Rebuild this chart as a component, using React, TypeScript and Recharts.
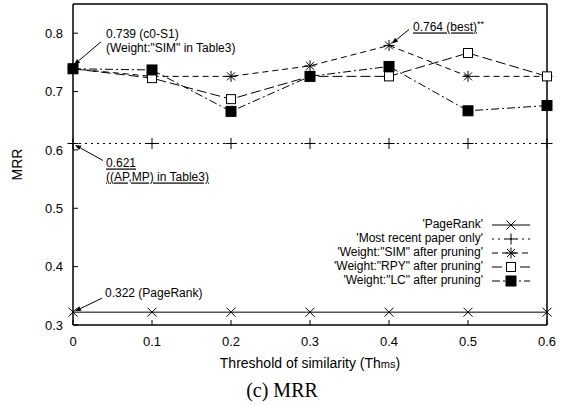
import { LineChart, Line, XAxis, YAxis, Legend, ReferenceDot } from 'recharts';

// Threshold of similarity on the x axis
const thresholds = [0, 0.1, 0.2, 0.3, 0.4, 0.5, 0.6];

// MRR values
const pageRank = [0.322, 0.322, 0.322, 0.322, 0.322, 0.322, 0.322];
const mostRecent = [0.611, 0.611, 0.611, 0.611, 0.611, 0.611, 0.611];
const simPruned = [0.739, 0.726, 0.726, 0.744, 0.779, 0.726, 0.726];
const rpyPruned = [0.739, 0.723, 0.687, 0.726, 0.726, 0.766, 0.726];
const lcPruned = [0.739, 0.737, 0.666, 0.726, 0.743, 0.667, 0.676];

const xTicks = [0, 0.1, 0.2, 0.3, 0.4, 0.5, 0.6];
const yTicks = [0.3, 0.4, 0.5, 0.6, 0.7, 0.8];

const FONT = '"Liberation Sans", Arial, sans-serif';

const chartData = thresholds.map((t, i) => ({
  t,
  pageRank: pageRank[i],
  mostRecent: mostRecent[i],
  sim: simPruned[i],
  rpy: rpyPruned[i],
  lc: lcPruned[i],
}));

const series = [
  { key: 'pageRank', name: "'PageRank'", dash: undefined, marker: 'cross' },
  { key: 'mostRecent', name: "'Most recent paper only'", dash: '2 4', marker: 'plus' },
  { key: 'sim', name: `'Weight:"SIM" after pruning'`, dash: '6 4', marker: 'star' },
  { key: 'rpy', name: `'Weight:"RPY" after pruning'`, dash: '10 4', marker: 'box' },
  { key: 'lc', name: `'Weight:"LC" after pruning'`, dash: '8 3 2 3', marker: 'boxFilled' },
];

function Marker({ kind, cx, cy }: { kind: string; cx: number; cy: number }) {
  const st = { stroke: '#000', strokeWidth: 1, fill: 'none' };
  if (kind === 'cross') {
    const s = 4.5;
    return <path d={`M${cx - s},${cy - s}L${cx + s},${cy + s}M${cx - s},${cy + s}L${cx + s},${cy - s}`} {...st} />;
  }
  if (kind === 'plus') {
    const s = 5.5;
    return <path d={`M${cx - s},${cy}L${cx + s},${cy}M${cx},${cy - s}L${cx},${cy + s}`} {...st} />;
  }
  if (kind === 'star') {
    const s = 5.5;
    const d = 4;
    return (
      <path
        d={`M${cx - s},${cy}L${cx + s},${cy}M${cx},${cy - s}L${cx},${cy + s}M${cx - d},${cy - d}L${cx + d},${cy + d}M${cx - d},${cy + d}L${cx + d},${cy - d}`}
        {...st}
      />
    );
  }
  if (kind === 'box') {
    return <rect x={cx - 4.5} y={cy - 4.5} width={9} height={9} fill="#fff" stroke="#000" strokeWidth={1} />;
  }
  return <rect x={cx - 5} y={cy - 5} width={10} height={10} fill="#000" stroke="#000" strokeWidth={1} />;
}

function makeDot(kind: string) {
  return (props: any) => (
    <g key={`${kind}-${props.index}`}>
      <Marker kind={kind} cx={props.cx} cy={props.cy} />
    </g>
  );
}

type NoteLine = { dx: number; dy: number; text: string; underline?: boolean; sup?: string };

function makeNote(tail: [number, number], head: [number, number], lines: NoteLine[]) {
  return (props: any) => {
    const { cx, cy } = props;
    const x1 = cx + tail[0];
    const y1 = cy + tail[1];
    const x2 = cx + head[0];
    const y2 = cy + head[1];
    const a = Math.atan2(y2 - y1, x2 - x1);
    const len = 6;
    const w = 2.5;
    const bx = x2 - len * Math.cos(a);
    const by = y2 - len * Math.sin(a);
    const p1 = `${bx + w * Math.sin(a)},${by - w * Math.cos(a)}`;
    const p2 = `${bx - w * Math.sin(a)},${by + w * Math.cos(a)}`;
    return (
      <g>
        <line x1={x1} y1={y1} x2={bx} y2={by} stroke="#000" strokeWidth={1} />
        <polygon points={`${x2},${y2} ${p1} ${p2}`} fill="#000" />
        {lines.map((l, i) => (
          <text key={i} x={cx + l.dx} y={cy + l.dy} fontSize={12} fontFamily={FONT} fill="#000">
            <tspan style={l.underline ? { textDecoration: 'underline' } : undefined}>{l.text}</tspan>
            {l.sup ? (
              <tspan fontSize={9} dy={-4}>
                {l.sup}
              </tspan>
            ) : null}
          </text>
        ))}
      </g>
    );
  };
}

function XLabel(props: any) {
  const { x, y, width } = props.viewBox;
  return (
    <text x={x + width / 2} y={y + 43} textAnchor="middle" fontSize={14} fontFamily={FONT} fill="#000">
      Threshold of similarity (Th
      <tspan fontSize={11}>ms</tspan>)
    </text>
  );
}

function YLabel(props: any) {
  const { y, height } = props.viewBox;
  const cy = y + height / 2;
  return (
    <text
      x={17}
      y={cy}
      transform={`rotate(-90 17 ${cy})`}
      textAnchor="middle"
      dominantBaseline="central"
      fontSize={14}
      fontFamily={FONT}
      fill="#000"
    >
      MRR
    </text>
  );
}

function LegendBox() {
  return (
    <div style={{ fontFamily: FONT, fontSize: 12, color: '#000' }}>
      {series.map((s) => (
        <div key={s.key} style={{ display: 'flex', justifyContent: 'flex-end', alignItems: 'center', height: 13.9 }}>
          <span style={{ whiteSpace: 'nowrap', lineHeight: '13px' }}>{s.name}</span>
          <svg width={40} height={14} style={{ marginLeft: 9, overflow: 'visible' }}>
            <line x1={0} x2={38} y1={7} y2={7} stroke="#000" strokeWidth={1} strokeDasharray={s.dash} />
            <Marker kind={s.marker} cx={19} cy={7} />
          </svg>
        </div>
      ))}
    </div>
  );
}

const axisLine = { stroke: '#000', strokeWidth: 1.5 };
const tickLine = { stroke: '#000', strokeWidth: 1 };
const tickStyle = { fill: '#000', fontSize: 13, fontFamily: FONT };

export default function App() {
  return (
    <div style={{ position: 'relative', width: 562, height: 405, background: '#fff' }}>
      <style>{'body{margin:0}'}</style>
      <LineChart width={562} height={405} data={chartData} margin={{ top: 3, right: 14, bottom: 0, left: 0 }}>
        <XAxis
          xAxisId="b"
          dataKey="t"
          type="number"
          domain={[0, 0.6]}
          ticks={xTicks}
          height={80}
          tickSize={-5}
          tickMargin={17}
          axisLine={axisLine}
          tickLine={tickLine}
          tick={tickStyle}
          label={<XLabel />}
        />
        <XAxis
          xAxisId="t"
          orientation="top"
          dataKey="t"
          type="number"
          domain={[0, 0.6]}
          ticks={xTicks}
          height={1}
          tickSize={-5}
          axisLine={axisLine}
          tickLine={tickLine}
          tick={false}
        />
        <YAxis
          yAxisId="l"
          type="number"
          domain={[0.3, 0.85]}
          ticks={yTicks}
          width={73}
          tickSize={-5}
          tickMargin={15}
          axisLine={axisLine}
          tickLine={tickLine}
          tick={tickStyle}
          label={<YLabel />}
        />
        <YAxis
          yAxisId="r"
          orientation="right"
          type="number"
          domain={[0.3, 0.85]}
          ticks={yTicks}
          width={1}
          tickSize={-5}
          axisLine={axisLine}
          tickLine={tickLine}
          tick={false}
        />
        {series.map((s) => (
          <Line
            key={s.key}
            xAxisId="b"
            yAxisId="l"
            dataKey={s.key}
            name={s.name}
            type="linear"
            stroke="#000"
            strokeWidth={1}
            strokeDasharray={s.dash}
            dot={makeDot(s.marker)}
            activeDot={false}
            isAnimationActive={false}
          />
        ))}
        <ReferenceDot
          xAxisId="b"
          yAxisId="l"
          x={thresholds[0]}
          y={simPruned[0]}
          shape={makeNote([28, -27], [1, -4], [
            { dx: 33, dy: -31, text: '0.739 (c0-S1)' },
            { dx: 33, dy: -17, text: '(Weight:"SIM" in Table3)' },
          ])}
        />
        <ReferenceDot
          xAxisId="b"
          yAxisId="l"
          x={thresholds[0]}
          y={mostRecent[0]}
          shape={makeNote([30, 17], [2, 1.5], [
            { dx: 33, dy: 24, text: '0.621', underline: true },
            { dx: 33, dy: 38, text: '((AP,MP) in Table3)', underline: true },
          ])}
        />
        <ReferenceDot
          xAxisId="b"
          yAxisId="l"
          x={thresholds[4]}
          y={simPruned[4]}
          shape={makeNote([20, -16], [3, -2], [{ dx: 24, dy: -14, text: '0.764 (best)', underline: true, sup: '**' }])}
        />
        <ReferenceDot
          xAxisId="b"
          yAxisId="l"
          x={thresholds[0]}
          y={pageRank[0]}
          shape={makeNote([29, -14], [2, -1], [{ dx: 32, dy: -15, text: '0.322 (PageRank)' }])}
        />
        <Legend
          layout="vertical"
          align="center"
          verticalAlign="middle"
          wrapperStyle={{ left: 232, top: 218, width: 300 }}
          content={() => <LegendBox />}
        />
      </LineChart>
      <div
        style={{
          position: 'absolute',
          left: 182,
          top: 377,
          width: 200,
          height: 26,
          lineHeight: '26px',
          textAlign: 'center',
          fontFamily: '"Liberation Serif", "Times New Roman", serif',
          fontSize: 20,
          color: '#000',
        }}
      >
        (c) MRR
      </div>
    </div>
  );
}
